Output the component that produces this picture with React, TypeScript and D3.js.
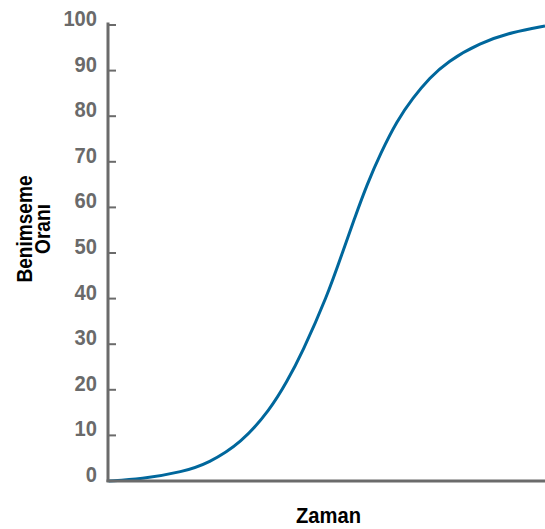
import React from "react";
import * as d3 from "d3";

const timeValues = [0, 7.4, 17.1, 22.9, 30.4, 37.0, 40.9, 44.3, 50.1, 53.7, 56.4, 59.2, 62.4, 66.1, 69.7, 73.6, 77.5, 85.1, 92.6, 100];
const adoptionValues = [0, 0.4, 2.0, 3.9, 8.3, 15.6, 21.8, 28.0, 40.5, 50.4, 57.7, 65.0, 72.0, 79.0, 84.0, 88.4, 91.9, 96.1, 98.5, 99.8];
const yTicks = [0, 10, 20, 30, 40, 50, 60, 70, 80, 90, 100];
const xTitle = "Zaman";
const yTitleLines = ["Benimseme", "Oranı"];

const W = 545;
const H = 529;
const axisColor = "#6b6b6b";
const labelColor = "#6a6a6a";
const lineColor = "#00679c";
const font = "'Liberation Sans', Arial, sans-serif";

export default function App() {
  const x = d3.scaleLinear().domain([0, 100]).range([108.5, 545]);
  const y = d3.scaleLinear().domain([0, 100]).range([481, 25]);
  const pts: [number, number][] = timeValues.map((t, i) => [t, adoptionValues[i]]);
  const line = d3
    .line<[number, number]>()
    .x((d) => x(d[0]))
    .y((d) => y(d[1]))
    .curve(d3.curveBasis);

  return (
    <svg width={W} height={H} style={{ position: "absolute", left: 0, top: 0, background: "#fff" }}>
      <path d={line(pts) || ""} fill="none" stroke={lineColor} strokeWidth={3} />
      <line x1={108} x2={108} y1={22.5} y2={482} stroke={axisColor} strokeWidth={3} />
      <line x1={106.5} x2={545} y1={481} y2={481} stroke={axisColor} strokeWidth={3} />
      {yTicks.map((t) => (
        <g key={t}>
          {t > 0 && (
            <line x1={108} x2={116} y1={y(t)} y2={y(t)} stroke={axisColor} strokeWidth={2} />
          )}
          <text
            x={97}
            y={y(t) + 1}
            textAnchor="end"
            fontFamily={font}
            fontWeight="bold"
            fontSize={22}
            fill={labelColor}
            textLength={11.2 * String(t).length}
            lengthAdjust="spacingAndGlyphs"
          >
            {t}
          </text>
        </g>
      ))}
      <text
        x={328.5}
        y={523}
        textAnchor="middle"
        fontFamily={font}
        fontWeight="bold"
        fontSize={22.5}
        fill="#000"
        textLength={65}
        lengthAdjust="spacingAndGlyphs"
      >
        {xTitle}
      </text>
      {yTitleLines.map((s, i) => (
        <text
          key={s}
          transform={`translate(${32 + i * 18},229) rotate(-90)`}
          textAnchor="middle"
          fontFamily={font}
          fontWeight="bold"
          fontSize={21.5}
          fill="#000"
          textLength={i === 0 ? 107 : 50}
          lengthAdjust="spacingAndGlyphs"
        >
          {s}
        </text>
      ))}
    </svg>
  );
}
